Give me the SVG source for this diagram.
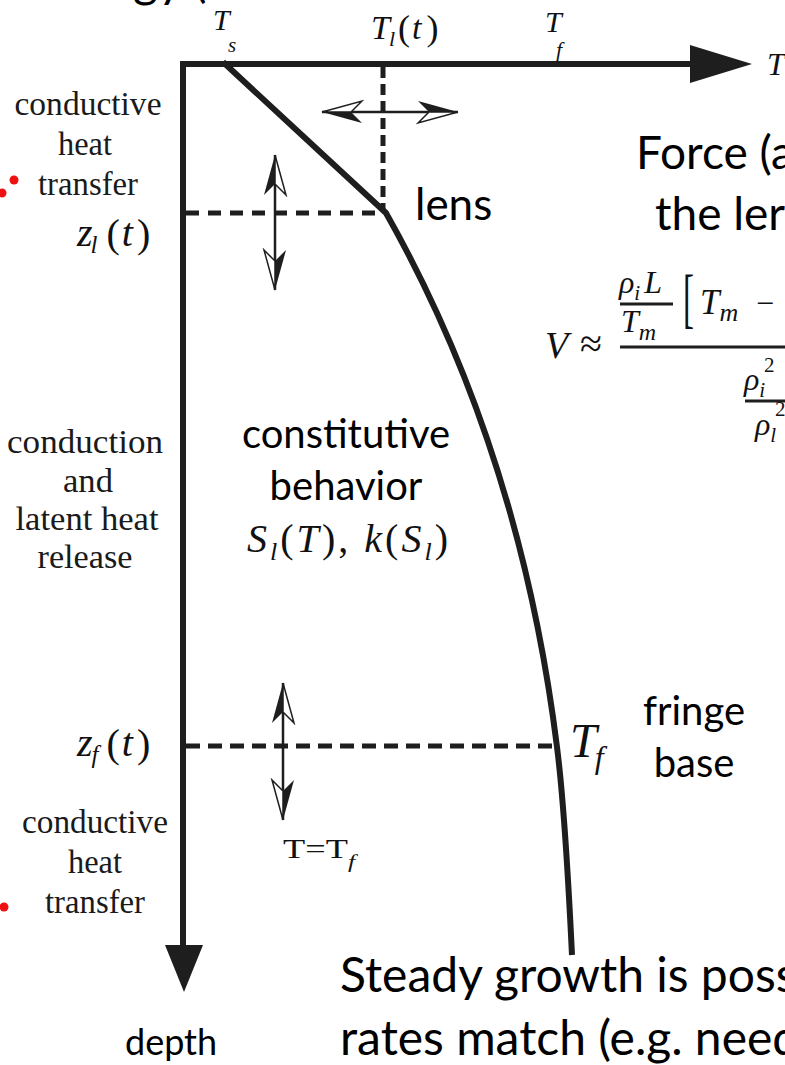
<svg xmlns="http://www.w3.org/2000/svg" width="785" height="1065" viewBox="0 0 785 1065">
<style>
.ln{fill:none;stroke:#1e1e1e;stroke-linecap:butt}
.ax{stroke-width:6;stroke-linejoin:miter}
.dash{stroke-width:5}
.thin{stroke-width:2.5}
.ser{font-family:"Liberation Serif",serif;font-size:33px;fill:#1a1a1a;text-anchor:middle}
.mi{font-family:"Liberation Serif",serif;font-style:italic;fill:#111}
.mr{font-family:"Liberation Serif",serif;fill:#111}
.up{font-style:normal}
.sans{font-family:Lato,"Open Sans",sans-serif;fill:#000}
.dot{fill:#ee1111}
</style>
<defs>
<marker id="dh" markerUnits="userSpaceOnUse" viewBox="-42 -13 44 26" markerWidth="44" markerHeight="26" refX="0" refY="0" orient="auto-start-reverse">
<path d="M0,0 L-40,-11 L-29,0 Z" fill="#1e1e1e"/>
<path d="M0,0 L-40,11 L-29,0 Z" fill="#fff" stroke="#1e1e1e" stroke-width="1.5" stroke-linejoin="miter"/>
</marker>
</defs>
<rect width="785" height="1065" fill="#fff"/>

<!-- clipped title fragment -->
<text class="sans" x="133" y="-3" font-size="48">gy (</text>

<g id="axes">
<path class="ln ax" d="M183,947 V64 H693"/>
<polygon points="690,45 752,64 690,83" fill="#1e1e1e"/>
<polygon points="165,945 203,945 184,992" fill="#1e1e1e"/>
</g>

<g id="profile">
<path class="ln" stroke-width="6" d="M223,62 L386,213 Q520,450 557,747 Q565,810 572,955"/>
</g>

<g id="connectors">
<path class="ln dash" stroke-dasharray="13 9" d="M186,213 H384"/>
<path class="ln dash" stroke-dasharray="11 6" d="M383,67 V211"/>
<path class="ln dash" stroke-dasharray="14 8" d="M186,746 H556"/>
<path class="ln thin" d="M322,112 H458" marker-start="url(#dh)" marker-end="url(#dh)"/>
<path class="ln thin" d="M275,155 V290" marker-start="url(#dh)" marker-end="url(#dh)"/>
<path class="ln thin" d="M283,683 V820" marker-start="url(#dh)" marker-end="url(#dh)"/>
</g>

<g id="axis-labels">
<text class="mi" x="213" y="30" font-size="30">T</text>
<text class="mi" x="228" y="52" font-size="21">s</text>
<text class="mi" x="371" y="39" font-size="34">T<tspan font-size="22" dx="-1" dy="7">l</tspan><tspan class="up" font-size="36" dx="3" dy="-6">(</tspan><tspan dx="2" dy="-1">t</tspan><tspan class="up" font-size="36" dx="5" dy="1">)</tspan></text>
<text class="mi" x="545" y="32" font-size="30">T</text>
<text class="mi" x="556" y="57" font-size="22">f</text>
<text class="mi" x="767" y="75" font-size="32">T</text>
</g>

<g id="depth-labels">
<text class="mi" x="77" y="246" font-size="40">z<tspan font-size="25" dx="-2" dy="7">l</tspan><tspan class="up" dx="9" dy="-6">(</tspan><tspan dx="2" dy="-1">t</tspan><tspan class="up" dx="4" dy="1">)</tspan></text>
<text class="mi" x="77" y="756" font-size="40">z<tspan font-size="25" dx="-1" dy="7">f</tspan><tspan class="up" dx="8" dy="-6">(</tspan><tspan dx="2" dy="-1">t</tspan><tspan class="up" dx="4" dy="1">)</tspan></text>
</g>

<g id="left-text">
<text class="ser" x="88" y="115" textLength="147" lengthAdjust="spacingAndGlyphs">conductive</text>
<text class="ser" x="85" y="155" textLength="54" lengthAdjust="spacingAndGlyphs">heat</text>
<text class="ser" x="88" y="195" textLength="100" lengthAdjust="spacingAndGlyphs">transfer</text>
<text class="ser" x="85" y="453" textLength="156" lengthAdjust="spacingAndGlyphs">conduction</text>
<text class="ser" x="88" y="492" textLength="50" lengthAdjust="spacingAndGlyphs">and</text>
<text class="ser" x="87" y="530" textLength="143" lengthAdjust="spacingAndGlyphs">latent heat</text>
<text class="ser" x="85" y="568" textLength="95" lengthAdjust="spacingAndGlyphs">release</text>
<text class="ser" x="95" y="833" textLength="146" lengthAdjust="spacingAndGlyphs">conductive</text>
<text class="ser" x="95" y="873" textLength="54" lengthAdjust="spacingAndGlyphs">heat</text>
<text class="ser" x="95" y="913" textLength="100" lengthAdjust="spacingAndGlyphs">transfer</text>
<circle class="dot" cx="14" cy="180" r="4.5"/>
<circle class="dot" cx="2" cy="193" r="4.5"/>
<circle class="dot" cx="4" cy="907" r="4.5"/>
</g>

<g id="lens-label">
<text class="sans" x="415" y="220" font-size="44">lens</text>
</g>

<g id="constitutive">
<text class="sans" x="346" y="448" font-size="40" text-anchor="middle">constitutive</text>
<text class="sans" x="346" y="500" font-size="40" text-anchor="middle">behavior</text>
<text class="mi" x="247" y="552" font-size="40" textLength="201" lengthAdjust="spacing">S<tspan font-size="26" dy="8">l</tspan><tspan class="up" dy="-8">(</tspan>T<tspan class="up">), </tspan>k<tspan class="up">(</tspan>S<tspan font-size="26" dy="8">l</tspan><tspan class="up" dy="-8">)</tspan></text>
</g>

<g id="fringe">
<text class="mi" x="570" y="757" font-size="48">T<tspan font-size="32" dx="-2" dy="11">f</tspan></text>
<text class="sans" x="694" y="725" font-size="40" text-anchor="middle">fringe</text>
<text class="sans" x="694" y="777" font-size="40" text-anchor="middle">base</text>
<text class="mr" x="283" y="858" font-size="27" textLength="72" lengthAdjust="spacingAndGlyphs">T=T<tspan class="mi" font-size="19" dy="10">f</tspan></text>
</g>

<g id="force-text">
<text class="sans" x="636" y="169" font-size="46">Force (a</text>
<text class="sans" x="655" y="230" font-size="46">the ler</text>
</g>

<g id="formula">
<text class="mi" x="545" y="358" font-size="38">V</text>
<text class="mr" x="580" y="357" font-size="40">≈</text>
<line class="ln" stroke-width="3" x1="620" y1="347" x2="785" y2="347"/>
<text class="mi" x="619" y="293" font-size="32">ρ<tspan font-size="21" dy="7">i</tspan><tspan dx="4" dy="-7">L</tspan></text>
<line class="ln" stroke-width="3" x1="620" y1="304" x2="673" y2="304"/>
<text class="mi" x="621" y="332" font-size="32">T<tspan font-size="24" dy="8">m</tspan></text>
<text class="mr" transform="translate(683,320) scale(0.5,1)" x="0" y="0" font-size="66">[</text>
<text class="mi" x="700" y="314" font-size="35">T<tspan font-size="26" dy="7">m</tspan></text>
<text class="mr" x="756" y="314" font-size="32">−</text>
<text class="mi" x="744" y="390" font-size="32">ρ<tspan font-size="21" dy="7">i</tspan></text>
<text class="mr" x="764" y="372" font-size="21">2</text>
<line class="ln" stroke-width="3" x1="745" y1="401" x2="785" y2="401"/>
<text class="mi" x="755" y="435" font-size="32">ρ<tspan font-size="21" dy="7">l</tspan></text>
<text class="mr" x="775" y="416" font-size="21">2</text>
</g>

<g id="bottom-text">
<text class="sans" x="125" y="1055" font-size="36">depth</text>
<text class="sans" x="340" y="992" font-size="48">Steady growth is poss</text>
<text class="sans" x="340" y="1055" font-size="48">rates match (e.g. need</text>
</g>
</svg>
